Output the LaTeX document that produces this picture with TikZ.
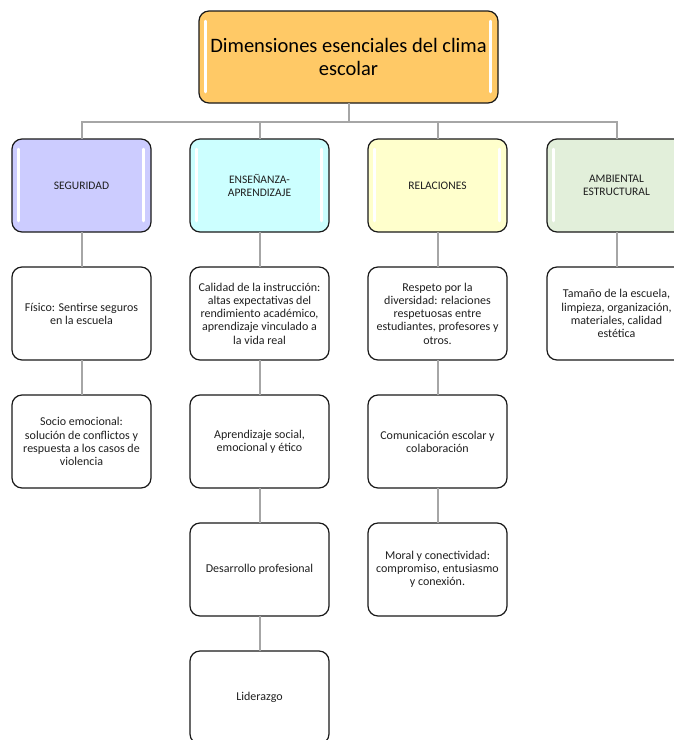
\documentclass[tikz,border=0pt]{standalone}
\usepackage{fontspec}
\setmainfont{Carlito}
\usepackage{tikz}
\usetikzlibrary{positioning,calc}
\definecolor{ClimateGold}{HTML}{FFC966}
\definecolor{SafetyLilac}{HTML}{CCCCFF}
\definecolor{TeachingCyan}{HTML}{CCFFFF}
\definecolor{RelationCream}{HTML}{FFFFCC}
\definecolor{SpaceSage}{HTML}{E2EFDA}
\definecolor{LinkGray}{HTML}{A6A6A6}
\definecolor{InkGray}{HTML}{1F1F1F}

\begin{document}
\begin{tikzpicture}[x=1pt,y=-1pt,node distance=35pt and 39pt,
    box/.style={draw=black!90,line width=1.2pt,rounded corners=10pt,align=center,
      minimum width=139pt,minimum height=93pt,inner sep=2pt,outer sep=0pt,text=InkGray,
      font=\fontsize{12}{13.2}\selectfont},
    head/.style={box,fill=#1,font=\fontsize{11.5}{13.2}\selectfont},
    link/.style={draw=LinkGray,line width=2pt},
    shine/.style={white,line width=2.5pt,line cap=round}]
    \useasboundingbox (0,0) rectangle (674,740);
    % title and the four dimensions
    \node[box,fill=ClimateGold,minimum width=299pt,minimum height=92pt,text=black,
      font=\fontsize{20.5}{23}\selectfont] (clima) at (348.5,57) {Dimensiones esenciales del clima\\escolar};
    \node[head=SafetyLilac] (seg) at (81.5,185.5) {SEGURIDAD};
    \node[head=TeachingCyan,right=of seg] (ens) {ENSEÑANZA-\\APRENDIZAJE};
    \node[head=RelationCream,right=of ens] (rel) {RELACIONES};
    \node[head=SpaceSage,right=40pt of rel] (amb) {AMBIENTAL\\ESTRUCTURAL};
    \foreach \n in {clima,seg,ens,rel,amb} {
      \draw[shine] ($(\n.north west)+(6.5,10)$) -- ($(\n.south west)+(6.5,-11)$);
      \draw[shine] ($(\n.north east)+(-7.5,10)$) -- ($(\n.south east)+(-7.5,-11)$);
    }
    % seguridad
    \node[box,below=of seg] (fis) {Físico: Sentirse seguros\\en la escuela};
    \node[box,below=of fis] (socio) {Socio emocional:\\solución de conflictos y\\respuesta a los casos de\\violencia};
    % ensenanza-aprendizaje
    \node[box,below=of ens] (cal) {Calidad de la instrucción:\\altas expectativas del\\rendimiento académico,\\aprendizaje vinculado a\\la vida real};
    \node[box,below=of cal] (apr) {Aprendizaje social,\\emocional y ético};
    \node[box,below=of apr] (des) {Desarrollo profesional};
    \node[box,below=of des] (lid) {Liderazgo};
    % relaciones
    \node[box,below=of rel] (resp) {Respeto por la\\diversidad: relaciones\\respetuosas entre\\estudiantes, profesores y\\otros.};
    \node[box,below=of resp] (com) {Comunicación escolar y\\colaboración};
    \node[box,below=of com] (mor) {Moral y conectividad:\\compromiso, entusiasmo\\y conexión.};
    % ambiental
    \node[box,below=of amb] (tam) {Tamaño de la escuela,\\limpieza, organización,\\materiales, calidad\\estética};
    % connectors
    \coordinate (bar) at (348.5,122);
    \foreach \n in {seg,ens,rel,amb}
      \draw[link] (clima.south) |- (\n.north |- bar) -- (\n.north);
    \draw[link] (seg.south) -- (fis.north);
    \draw[link] (fis.south) -- (socio.north);
    \draw[link] (ens.south) -- (cal.north);
    \draw[link] (cal.south) -- (apr.north);
    \draw[link] (apr.south) -- (des.north);
    \draw[link] (des.south) -- (lid.north);
    \draw[link] (rel.south) -- (resp.north);
    \draw[link] (resp.south) -- (com.north);
    \draw[link] (com.south) -- (mor.north);
    \draw[link] (amb.south) -- (tam.north);
  \end{tikzpicture}
\end{document}
